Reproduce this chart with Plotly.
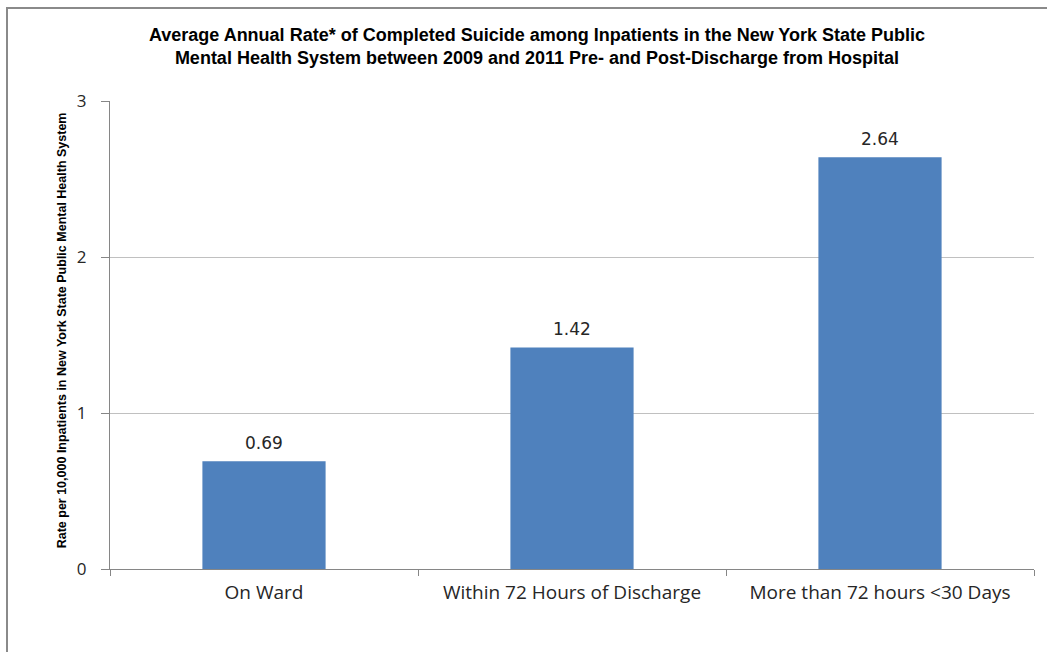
import plotly.graph_objects as go

# Average annual completed-suicide rate per 10,000 inpatients, by period
categories = ["On Ward", "Within 72 Hours of Discharge", "More than 72 hours <30 Days"]
rates = [0.69, 1.42, 2.64]
y_ticks = [0, 1, 2, 3]

W, H = 1047, 652
L, R, T, B = 110, 13, 101, 83
plot_w = W - L - R
plot_h = H - T - B

fig = go.Figure()
fig.add_trace(go.Bar(
    x=categories,
    y=rates,
    marker=dict(color="#4F81BD", line=dict(width=0)),
    width=0.4,
    hoverinfo="x+y",
))

# value labels above each bar
for cat, v in zip(categories, rates):
    fig.add_annotation(
        x=cat, y=v, xref="x", yref="y",
        text=f"{v:.2f}",
        xanchor="center", yanchor="bottom",
        yshift=6, showarrow=False,
        font=dict(family="DejaVu Sans", size=17, color="#262626"),
    )

fig.update_layout(
    width=W, height=H,
    margin=dict(l=L, r=R, t=T, b=B),
    paper_bgcolor="white",
    plot_bgcolor="white",
    showlegend=False,
    title=dict(
        text="Average Annual Rate* of Completed Suicide among Inpatients in the New York State Public<br>"
             "Mental Health System between 2009 and 2011 Pre- and Post-Discharge from Hospital",
        x=537 / W, xanchor="center",
        y=1 - 41 / H, yanchor="middle",
        font=dict(family="Liberation Sans", size=18, color="black", weight="bold"),
    ),
    xaxis=dict(
        showline=True, linecolor="#868686", linewidth=1,
        ticks="outside", tickson="boundaries", ticklen=6, tickcolor="#868686",
        tickfont=dict(family="Open Sans", size=19, color="#262626"),
        ticklabelstandoff=6,
        showgrid=False,
    ),
    yaxis=dict(
        range=[0, 3],
        tickvals=y_ticks,
        showline=True, linecolor="#868686", linewidth=1,
        ticks="outside", ticklen=8, tickcolor="#868686",
        tickfont=dict(family="Open Sans", size=17, color="#262626"),
        ticklabelstandoff=11,
        showgrid=True, gridcolor="#c0c0c0", gridwidth=1,
        zeroline=False,
    ),
    bargap=0.6,
    font=dict(family="Liberation Sans"),
)

# rotated axis caption
fig.add_annotation(
    text="Rate per 10,000 Inpatients in New York State Public Mental Health System",
    xref="paper", yref="paper",
    x=(62 - L) / plot_w, y=0.51,
    xanchor="center", yanchor="middle",
    textangle=-90, showarrow=False,
    font=dict(family="Liberation Sans", size=12.5, color="black", weight="bold"),
)

# frame around the figure
fig.add_shape(
    type="rect", xref="paper", yref="paper",
    x0=(7 - L) / plot_w, x1=(1060 - L) / plot_w,
    y0=(H - B - 670) / plot_h, y1=(H - B - 8) / plot_h,
    line=dict(color="#8a8a8a", width=2),
    fillcolor="rgba(0,0,0,0)", layer="below",
)

fig.write_html("out.html")
